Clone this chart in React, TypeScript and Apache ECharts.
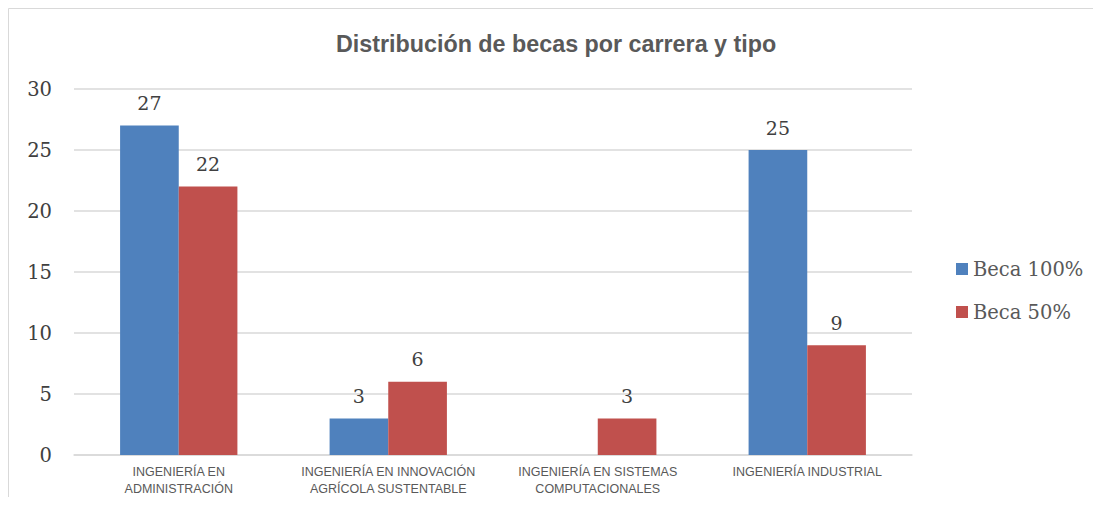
import React, { useEffect, useRef } from "react";
import * as echarts from "echarts";

const categories = [
  "INGENIERÍA EN\nADMINISTRACIÓN",
  "INGENIERÍA EN INNOVACIÓN\nAGRÍCOLA SUSTENTABLE",
  "INGENIERÍA EN SISTEMAS\nCOMPUTACIONALES",
  "INGENIERÍA INDUSTRIAL",
];
const beca100: (number | null)[] = [27, 3, null, 25];
const beca50: (number | null)[] = [22, 6, 3, 9];
const yTicks = { min: 0, max: 30, interval: 5 };

const SERIF = "'DejaVu Serif', serif";
const SANS = "'Liberation Sans', Arial, sans-serif";

export default function App() {
  const ref = useRef<HTMLDivElement>(null);
  useEffect(() => {
    if (!ref.current) return;
    const chart = echarts.init(ref.current, undefined, { renderer: "svg" });
    const label = {
      show: true,
      position: "top",
      distance: 13,
      fontFamily: SERIF,
      fontSize: 19,
      color: "#404040",
    };
    chart.setOption({
      animation: false,
      backgroundColor: "#ffffff",
      title: {
        text: "Distribución de becas por carrera y tipo",
        left: 323,
        top: 19,
        textStyle: { fontFamily: SANS, fontSize: 23.3, fontWeight: "bold", color: "#595959" },
      },
      legend: {
        orient: "vertical",
        left: 943,
        top: 246,
        itemWidth: 12,
        itemHeight: 12,
        itemGap: 23,
        icon: "rect",
        textStyle: { fontFamily: SERIF, fontSize: 19.5, color: "#595959" },
        data: ["Beca 100%", "Beca 50%"],
      },
      grid: { left: 66, right: 189, top: 81, bottom: 41 },
      xAxis: {
        type: "category",
        data: categories,
        axisLine: { lineStyle: { color: "#d9d9d9", width: 1.5 } },
        axisTick: { show: false },
        axisLabel: {
          interval: 0,
          margin: 8,
          fontFamily: SANS,
          fontSize: 12.5,
          lineHeight: 17,
          color: "#595959",
        },
      },
      yAxis: {
        type: "value",
        min: yTicks.min,
        max: yTicks.max,
        interval: yTicks.interval,
        axisLine: { show: false },
        axisTick: { show: false },
        axisLabel: { margin: 22, fontFamily: SERIF, fontSize: 19.5, color: "#404040" },
        splitLine: { lineStyle: { color: "#d9d9d9", width: 1.5 } },
      },
      series: [
        {
          name: "Beca 100%",
          type: "bar",
          data: beca100,
          barGap: "0%",
          barCategoryGap: "44%",
          itemStyle: { color: "#4f81bd" },
          label,
        },
        {
          name: "Beca 50%",
          type: "bar",
          data: beca50,
          itemStyle: { color: "#c0504d" },
          label,
        },
      ],
      graphic: [
        { type: "line", shape: { x1: 0.5, y1: 0.5, x2: 1093, y2: 0.5 }, style: { stroke: "#d9d9d9", lineWidth: 1 } },
        { type: "line", shape: { x1: 0.5, y1: 0.5, x2: 0.5, y2: 489 }, style: { stroke: "#d9d9d9", lineWidth: 1 } },
      ],
    });
    return () => chart.dispose();
  }, []);
  return <div ref={ref} style={{ width: 1093, height: 489 }} />;
}
